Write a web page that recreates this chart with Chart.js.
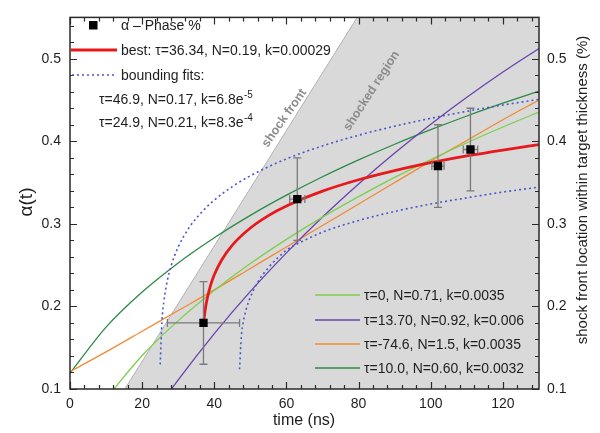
<!DOCTYPE html>
<html>
<head>
<meta charset="utf-8">
<script src="https://cdn.jsdelivr.net/npm/chart.js@4.4.1/dist/chart.umd.min.js"></script>
<style>
  html, body { margin: 0; padding: 0; background: #fff; }
  #wrap { width: 600px; height: 433px; }
</style>
</head>
<body>
<div id="wrap"><canvas id="c" width="600" height="433"></canvas></div>
<script>
// Measured alpha-phase fraction with error bars
const phaseTime = [37, 63, 102, 111];
const phaseAlpha = [0.18, 0.33, 0.37, 0.39];
const phaseTimeErr = [10, 2.1, 1.7, 2.0];
const phaseAlphaErr = [0.05, 0.05, 0.05, 0.05];

// best fit: tau=36.34, N=0.19, k=0.00029
const bestTime = [37, 37.5, 38, 39, 40, 42, 45, 50, 55, 60, 70, 80, 90, 100, 110, 120, 130];
const bestAlpha = [0.1785, 0.1966, 0.2088, 0.2260, 0.2383, 0.2560, 0.2743, 0.2950, 0.3100, 0.3216,
                   0.3396, 0.3534, 0.3645, 0.3740, 0.3822, 0.3894, 0.3959];

// bounding fit: tau=24.9, N=0.21, k=8.3e-4
const upperTime = [25, 25.5, 26, 27, 28, 30, 33, 36, 40, 45, 50, 60, 70, 80, 90, 100, 110, 120, 130];
const upperAlpha = [0.1298, 0.1833, 0.2055, 0.2316, 0.2487, 0.2720, 0.2952, 0.3118, 0.3288, 0.3451,
                    0.3582, 0.3787, 0.3944, 0.4073, 0.4183, 0.4278, 0.4363, 0.4439, 0.4507];

// bounding fit: tau=46.9, N=0.17, k=6.8e-5
const lowerTime = [47, 47.5, 48, 49, 50, 52, 55, 60, 65, 70, 80, 90, 100, 110, 120, 130];
const lowerAlpha = [0.1239, 0.1642, 0.1804, 0.1990, 0.2112, 0.2290, 0.2470, 0.2680, 0.2800, 0.2900,
                    0.3040, 0.3150, 0.3240, 0.3315, 0.3385, 0.3445];

// alternative fits
const fitATime = [10, 20, 30, 40, 50, 60, 70, 80, 90, 100, 110, 120, 130];
const fitAAlpha = [0.0884, 0.1405, 0.1828, 0.2194, 0.2519, 0.2812, 0.3082, 0.3330, 0.3562, 0.3778,
                   0.3982, 0.4173, 0.4354];

const fitBTime = [20, 25, 30, 40, 50, 60, 70, 80, 90, 100, 110, 120, 130];
const fitBAlpha = [0.0479, 0.0807, 0.1111, 0.1671, 0.2182, 0.2649, 0.3082, 0.3483, 0.3857, 0.4206,
                   0.4532, 0.4838, 0.5124];

const fitCTime = [0, 10, 20, 30, 40, 50, 60, 70, 80, 90, 100, 110, 120, 130];
const fitCAlpha = [0.121, 0.145, 0.170, 0.195, 0.220, 0.246, 0.272, 0.298, 0.324, 0.350, 0.376,
                   0.401, 0.426, 0.450];

const fitDTime = [0, 10, 20, 30, 40, 50, 60, 70, 80, 90, 100, 110, 120, 130];
const fitDAlpha = [0.1191, 0.1749, 0.2174, 0.2527, 0.2832, 0.3103, 0.3347, 0.3570, 0.3774, 0.3964,
                   0.4140, 0.4306, 0.4461, 0.4608];

// shock front trajectory (time, location within target thickness)
const shockTime = [15.2, 79.6, 130];
const shockLoc = [0.1, 0.55, 0.55];

const xTicks = [0, 20, 40, 60, 80, 100, 120];
const yTicks = [0.1, 0.2, 0.3, 0.4, 0.5];

const fitLabels = [
  'τ=0, N=0.71, k=0.0035',
  'τ=13.70, N=0.92, k=0.006',
  'τ=-74.6, N=1.5, k=0.0035',
  'τ=10.0, N=0.60, k=0.0032'
];

const FONT = '"Liberation Sans", Arial, Helvetica, sans-serif';
const RED = '#e8191c';
const BLUE = '#4a57cc';
const C_A = '#7ccf4e';
const C_B = '#6a43ad';
const C_C = '#f28a32';
const C_D = '#2a8a45';
const TEXT = '#1e1e1e';

const pts = (xs, ys) => xs.map((x, i) => ({ x: x, y: ys[i] }));

function fitLine(xs, ys, color, width, order, dash) {
  return {
    data: pts(xs, ys),
    borderColor: color,
    borderWidth: width,
    borderDash: dash || [],
    pointRadius: 0,
    fill: false,
    cubicInterpolationMode: 'monotone',
    order: order
  };
}

const decor = {
  id: 'decor',
  afterDatasetDraw(chart, args) {
    if (args.index !== 9) return;
    const ctx = chart.ctx;
    const x = chart.scales.x, y = chart.scales.y;
    ctx.save();
    ctx.fillStyle = '#8c8c8c';
    ctx.font = 'bold 12.5px ' + FONT;
    ctx.textAlign = 'center';
    ctx.textBaseline = 'middle';
    ctx.translate(x.getPixelForValue(59.4), y.getPixelForValue(0.428));
    ctx.rotate(-55 * Math.PI / 180);
    ctx.fillText('shock front', 0, 0);
    ctx.restore();
    ctx.save();
    ctx.fillStyle = '#8c8c8c';
    ctx.font = 'bold 12.5px ' + FONT;
    ctx.textAlign = 'center';
    ctx.textBaseline = 'middle';
    ctx.translate(x.getPixelForValue(83.6), y.getPixelForValue(0.461));
    ctx.rotate(-57 * Math.PI / 180);
    ctx.fillText('shocked region', 0, 0);
    ctx.restore();
  },
  beforeDatasetDraw(chart, args) {
    if (args.index !== 0) return;
    const ctx = chart.ctx;
    const x = chart.scales.x, y = chart.scales.y;
    ctx.save();
    ctx.strokeStyle = '#7a7a7a';
    ctx.lineWidth = 1.3;
    const cap = 4;
    phaseTime.forEach((t, i) => {
      const px = x.getPixelForValue(t);
      const py = y.getPixelForValue(phaseAlpha[i]);
      const yl = y.getPixelForValue(phaseAlpha[i] - phaseAlphaErr[i]);
      const yh = y.getPixelForValue(phaseAlpha[i] + phaseAlphaErr[i]);
      const xl = x.getPixelForValue(t - phaseTimeErr[i]);
      const xh = x.getPixelForValue(t + phaseTimeErr[i]);
      ctx.beginPath();
      ctx.moveTo(px, yl); ctx.lineTo(px, yh);
      ctx.moveTo(px - cap, yl); ctx.lineTo(px + cap, yl);
      ctx.moveTo(px - cap, yh); ctx.lineTo(px + cap, yh);
      ctx.moveTo(xl, py); ctx.lineTo(xh, py);
      ctx.moveTo(xl, py - cap); ctx.lineTo(xl, py + cap);
      ctx.moveTo(xh, py - cap); ctx.lineTo(xh, py + cap);
      ctx.stroke();
    });
    ctx.restore();
  },
  afterDraw(chart) {
    const ctx = chart.ctx;
    const a = chart.chartArea;
    const x = chart.scales.x, y = chart.scales.y;
    ctx.save();

    // frame
    ctx.strokeStyle = '#2a2a2a';
    ctx.lineWidth = 1.5;
    ctx.strokeRect(a.left, a.top, a.right - a.left, a.bottom - a.top);

    // inward ticks on all four sides
    ctx.lineWidth = 1.2;
    ctx.beginPath();
    for (let v = 0; v <= 130; v += 4) {
      const major = v % 20 === 0;
      const len = major ? 7 : 4;
      const px = Math.round(x.getPixelForValue(v)) + 0.5;
      ctx.moveTo(px, a.bottom); ctx.lineTo(px, a.bottom - len);
      ctx.moveTo(px, a.top); ctx.lineTo(px, a.top + len);
    }
    for (let k = 0; k <= 22; k++) {
      const v = 0.1 + 0.02 * k;
      const major = k % 5 === 0;
      const len = major ? 7 : 4;
      const py = Math.round(y.getPixelForValue(v)) + 0.5;
      ctx.moveTo(a.left, py); ctx.lineTo(a.left + len, py);
      ctx.moveTo(a.right, py); ctx.lineTo(a.right - len, py);
    }
    ctx.stroke();

    // axis titles
    ctx.fillStyle = TEXT;
    ctx.textAlign = 'center';
    ctx.textBaseline = 'middle';
    ctx.font = '16px ' + FONT;
    ctx.fillText('time (ns)', 304, 421);
    ctx.save();
    ctx.translate(27, 202);
    ctx.rotate(-Math.PI / 2);
    ctx.font = '19px ' + FONT;
    ctx.fillText('α(t)', 0, 0);
    ctx.restore();
    ctx.save();
    ctx.translate(583, 190);
    ctx.rotate(-Math.PI / 2);
    ctx.font = '15px ' + FONT;
    ctx.fillText('shock front location within target thickness (%)', 0, 0);
    ctx.restore();

    // upper-left key
    ctx.textAlign = 'left';
    ctx.font = '14px ' + FONT;
    ctx.fillStyle = '#000';
    ctx.fillRect(89, 21, 8.5, 8.5);
    ctx.fillStyle = TEXT;
    ctx.fillText('α – Phase %', 121, 26);

    ctx.strokeStyle = RED;
    ctx.lineWidth = 2.8;
    ctx.beginPath(); ctx.moveTo(71, 50); ctx.lineTo(117, 50); ctx.stroke();
    ctx.fillText('best: τ=36.34, N=0.19, k=0.00029', 121, 51);

    ctx.strokeStyle = BLUE;
    ctx.lineWidth = 1.6;
    ctx.setLineDash([2, 3]);
    ctx.beginPath(); ctx.moveTo(72, 75); ctx.lineTo(117, 75); ctx.stroke();
    ctx.setLineDash([]);
    ctx.fillText('bounding fits:', 121, 76);

    const supRow = (base, sup, px, py) => {
      ctx.font = '14px ' + FONT;
      ctx.fillText(base, px, py);
      const w = ctx.measureText(base).width;
      ctx.font = '10px ' + FONT;
      ctx.fillText(sup, px + w + 0.5, py - 5);
    };
    supRow('τ=46.9, N=0.17, k=6.8e', '-5', 99, 100);
    supRow('τ=24.9, N=0.21, k=8.3e', '-4', 99, 123);

    // lower-right key
    const keyColors = [C_A, C_B, C_C, C_D];
    const keyRows = [295, 320, 344, 368];
    ctx.font = '14px ' + FONT;
    keyColors.forEach((c, i) => {
      ctx.strokeStyle = c;
      ctx.lineWidth = 1.3;
      ctx.beginPath(); ctx.moveTo(315, keyRows[i]); ctx.lineTo(360, keyRows[i]); ctx.stroke();
      ctx.fillStyle = TEXT;
      ctx.fillText(fitLabels[i], 364, keyRows[i] + 1);
    });
    ctx.restore();
  }
};

const tickFont = { family: FONT, size: 14 };

new Chart(document.getElementById('c'), {
  type: 'line',
  data: {
    datasets: [
      {
        label: 'α – Phase %',
        data: pts(phaseTime, phaseAlpha),
        showLine: false,
        pointStyle: 'rect',
        pointRadius: 5.9,
        pointBackgroundColor: '#000',
        pointBorderColor: '#000',
        pointBorderWidth: 0,
        order: 0
      },
      fitLine(bestTime, bestAlpha, RED, 2.8, 1),
      fitLine(upperTime, upperAlpha, BLUE, 1.6, 2, [2, 3]),
      fitLine(lowerTime, lowerAlpha, BLUE, 1.6, 3, [2, 3]),
      fitLine(fitATime, fitAAlpha, C_A, 1.3, 4),
      fitLine(fitBTime, fitBAlpha, C_B, 1.3, 5),
      fitLine(fitCTime, fitCAlpha, C_C, 1.3, 6),
      fitLine(fitDTime, fitDAlpha, C_D, 1.3, 7),
      {
        data: pts(shockTime.slice(0, 2), shockLoc.slice(0, 2)),
        borderColor: '#b2b2b2',
        borderWidth: 1,
        pointRadius: 0,
        fill: false,
        tension: 0,
        order: 18
      },
      {
        data: pts(shockTime, shockLoc),
        borderColor: 'rgba(0,0,0,0)',
        borderWidth: 0,
        backgroundColor: '#d9d9d9',
        pointRadius: 0,
        fill: 'start',
        tension: 0,
        order: 20
      }
    ]
  },
  options: {
    responsive: false,
    animation: false,
    devicePixelRatio: 1,
    layout: { padding: { top: 12, left: 0, right: 0, bottom: 0 } },
    plugins: { legend: { display: false }, tooltip: { enabled: false } },
    scales: {
      x: {
        type: 'linear',
        min: 0, max: 130,
        afterBuildTicks: s => { s.ticks = xTicks.map(v => ({ value: v })); },
        afterFit: s => { s.height = 44; },
        grid: { display: false, drawTicks: false },
        border: { display: false },
        ticks: { font: tickFont, color: TEXT, padding: 7, maxRotation: 0, autoSkip: false,
                 callback: v => String(v) }
      },
      y: {
        type: 'linear',
        position: 'left',
        min: 0.1, max: 0.55,
        afterBuildTicks: s => { s.ticks = yTicks.map(v => ({ value: v })); },
        afterFit: s => { s.width = 70; },
        grid: { display: false, drawTicks: false },
        border: { display: false },
        ticks: { font: tickFont, color: TEXT, padding: 9, autoSkip: false,
                 callback: v => v.toFixed(1) }
      },
      y2: {
        type: 'linear',
        position: 'right',
        min: 0.1, max: 0.55,
        afterBuildTicks: s => { s.ticks = yTicks.map(v => ({ value: v })); },
        afterFit: s => { s.width = 61; },
        grid: { display: false, drawTicks: false },
        border: { display: false },
        ticks: { font: tickFont, color: TEXT, padding: 8, autoSkip: false,
                 callback: v => v.toFixed(1) }
      }
    }
  },
  plugins: [decor]
});
</script>
</body>
</html>
